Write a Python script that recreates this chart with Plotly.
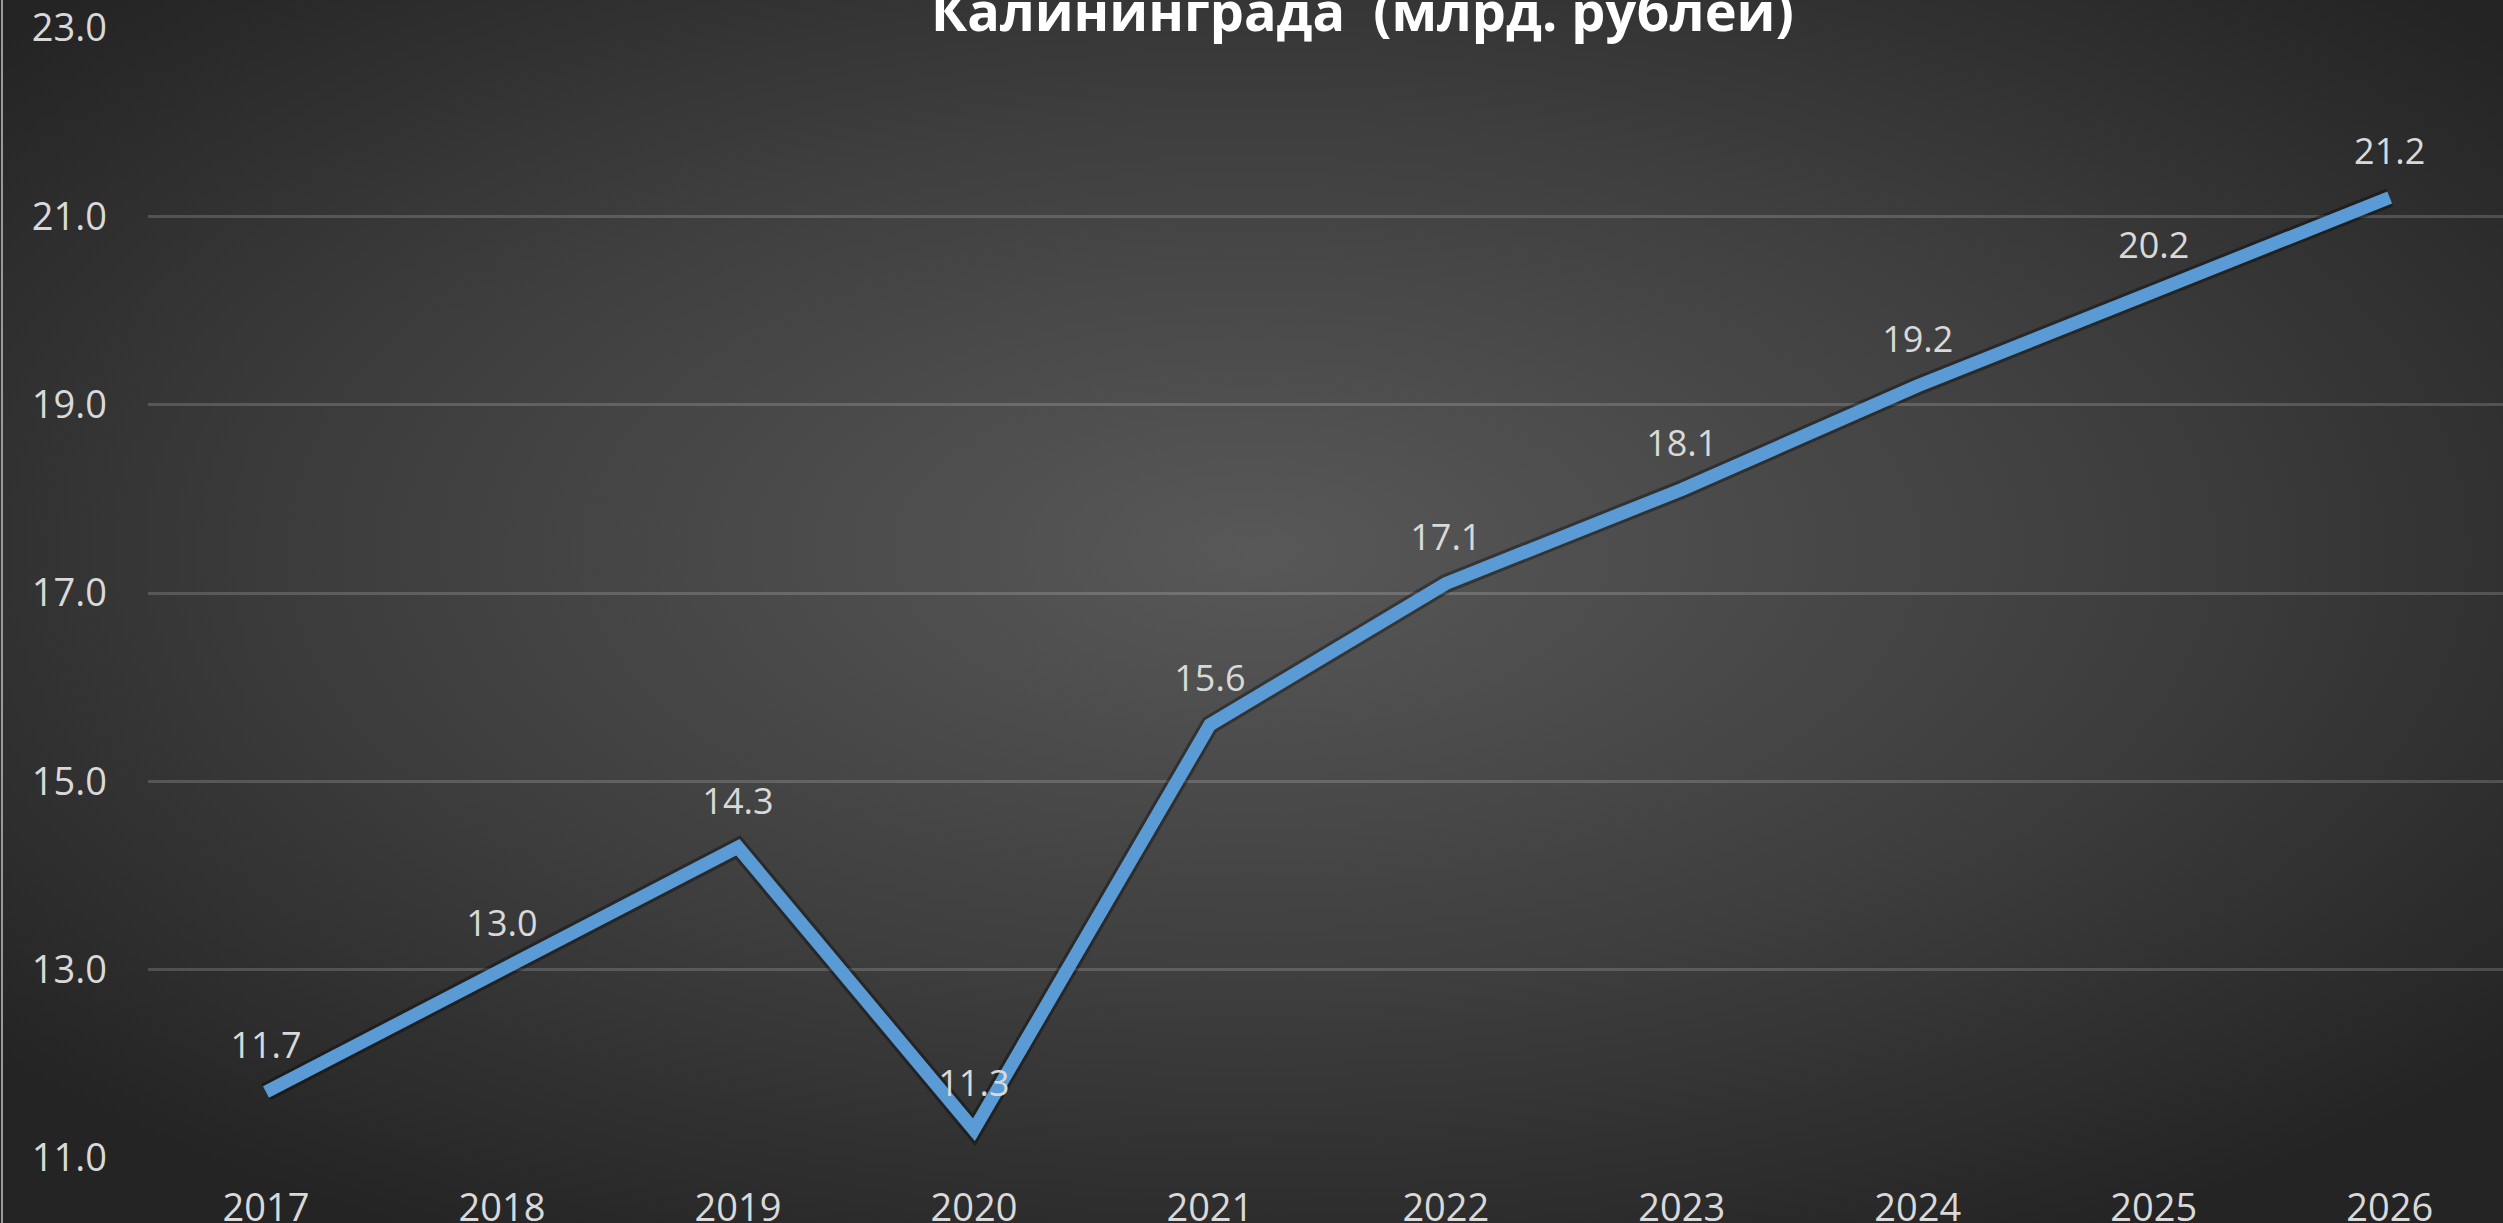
import base64
import plotly.graph_objects as go

years = ["2017", "2018", "2019", "2020", "2021", "2022", "2023", "2024", "2025", "2026"]
values = [11.7, 13.0, 14.3, 11.3, 15.6, 17.1, 18.1, 19.2, 20.2, 21.2]
y_ticks = [11.0, 13.0, 15.0, 17.0, 19.0, 21.0, 23.0]
title_text = "Калининграда  (млрд. рублей)"

W, H = 2503, 1223
L, R, T, B = 148, 0, 28, 65
pw, ph = W - L - R, H - T - B

svg = f'''<svg xmlns="http://www.w3.org/2000/svg" width="{W}" height="{H}" viewBox="0 0 {W} {H}" preserveAspectRatio="none">
<defs><radialGradient id="g" cx="50%" cy="45%" r="65%" fx="50%" fy="45%">
<stop offset="0%" stop-color="#585858"/><stop offset="55%" stop-color="#3e3e3e"/><stop offset="100%" stop-color="#242424"/>
</radialGradient></defs>
<rect width="{W}" height="{H}" fill="url(#g)"/></svg>'''
src = "data:image/svg+xml;base64," + base64.b64encode(svg.encode()).decode()

fig = go.Figure()
# soft shadow under the line
fig.add_trace(go.Scatter(
    x=years, y=values, mode="lines",
    line=dict(color="rgba(0,0,0,0.35)", width=19),
    hoverinfo="skip", showlegend=False,
))
fig.add_trace(go.Scatter(
    x=years, y=values, mode="lines+markers+text",
    line=dict(color="#5b9bd5", width=13),
    marker=dict(size=38, color="rgba(0,0,0,0)", line=dict(width=0)),
    text=[f"{v:.1f}" for v in values],
    textposition="top center",
    textfont=dict(family="Open Sans", size=36, color="#d9d9d9"),
    cliponaxis=False,
    hoverinfo="skip", showlegend=False,
))

fig.update_layout(
    width=W, height=H,
    margin=dict(l=L, r=R, t=T, b=B),
    paper_bgcolor="#2b2b2b",
    plot_bgcolor="rgba(0,0,0,0)",
    images=[dict(
        source=src, xref="paper", yref="paper",
        x=-L / pw, y=1 + T / ph, sizex=W / pw, sizey=H / ph,
        xanchor="left", yanchor="top", sizing="stretch", layer="below",
    )],
    xaxis=dict(
        type="category", range=[-0.5, 9.48], automargin=False,
        showgrid=False, zeroline=False, showline=False, ticks="",
        tickfont=dict(family="Open Sans", size=38, color="#d9d9d9"),
        ticklabelstandoff=24,
    ),
    yaxis=dict(
        range=[11, 23], tickvals=y_ticks, automargin=False,
        ticktext=[f"{t:.1f}" for t in y_ticks],
        showgrid=True, gridcolor="rgba(255,255,255,0.17)", gridwidth=3,
        zeroline=False, showline=False, ticks="",
        tickfont=dict(family="Open Sans", size=38, color="#d9d9d9"),
        ticklabelstandoff=40,
    ),
    annotations=[dict(
        x=0.5, y=1, xref="paper", yref="paper", text=title_text, showarrow=False,
        xanchor="center", yanchor="middle", yshift=18, xshift=37,
        font=dict(family="Open Sans", size=54, color="#ffffff", weight="bold"),
    )],
    shapes=[dict(
        type="line", xref="paper", yref="paper",
        x0=-(L - 2) / pw, x1=-(L - 2) / pw, y0=-B / ph, y1=1 + T / ph,
        line=dict(color="#9a9a9a", width=2),
    )],
)

fig.write_html(
    "out.html",
    config={"displayModeBar": False},
    post_script="document.body.style.margin='0';document.body.style.overflow='hidden';",
)
